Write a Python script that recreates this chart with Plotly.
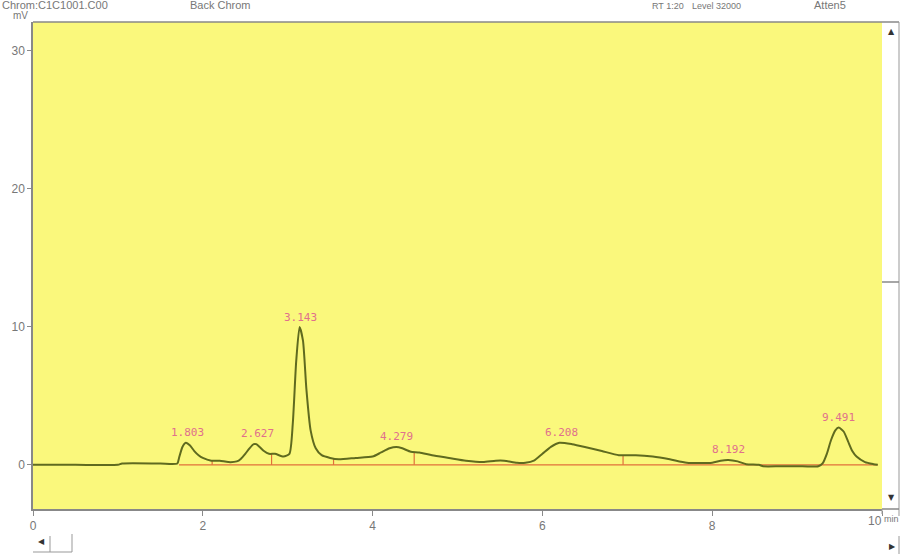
import numpy as np
import plotly.graph_objects as go

# ---- data ----
time_min = [0, 0.5, 1.0, 1.05, 1.5, 1.7, 1.72, 1.76, 1.80, 1.85, 1.9, 1.95, 2.0, 2.1, 2.2, 2.3, 2.4,
            2.45, 2.5, 2.55, 2.6, 2.63, 2.67, 2.72, 2.78, 2.85, 2.95, 3.02, 3.06, 3.1, 3.14, 3.18,
            3.22, 3.27, 3.33, 3.4, 3.5, 3.6, 3.8, 4.0, 4.1, 4.2, 4.28, 4.35, 4.45, 4.55, 4.7, 4.9,
            5.1, 5.3, 5.45, 5.55, 5.7, 5.8, 5.9, 6.0, 6.1, 6.2, 6.35, 6.5, 6.7, 6.9, 7.0, 7.1, 7.3,
            7.5, 7.7, 8.0, 8.1, 8.19, 8.3, 8.4, 8.55, 8.6, 8.8, 9.0, 9.25, 9.3, 9.35, 9.4, 9.45,
            9.49, 9.55, 9.6, 9.65, 9.7, 9.8, 9.9, 9.95]
signal_mv = [0, 0, 0.0, 0.1, 0.1, 0.1, 0.5, 1.3, 1.6, 1.4, 1.0, 0.7, 0.5, 0.3, 0.3, 0.2, 0.25,
             0.45, 0.8, 1.2, 1.5, 1.5, 1.3, 1.0, 0.8, 0.8, 0.6, 0.8, 3.0, 7.5, 10.0, 9.0,
             5.5, 2.5, 1.2, 0.7, 0.5, 0.4, 0.5, 0.6, 0.9, 1.2, 1.3, 1.2, 0.95, 0.9, 0.7, 0.5,
             0.3, 0.2, 0.3, 0.3, 0.15, 0.15, 0.3, 0.8, 1.3, 1.6, 1.5, 1.3, 1.0, 0.7, 0.7, 0.7, 0.6,
             0.4, 0.15, 0.15, 0.3, 0.35, 0.25, 0.05, 0.0, -0.1, -0.1, -0.1, -0.1, 0.1, 0.8, 1.8, 2.5,
             2.7, 2.4, 1.7, 1.0, 0.6, 0.2, 0.05, 0.0]

peak_rt = [1.803, 2.627, 3.143, 4.279, 6.208, 8.192, 9.491]
peak_labels = ["1.803", "2.627", "3.143", "4.279", "6.208", "8.192", "9.491"]
peak_label_at = [1.82, 2.64, 3.15, 4.28, 6.22, 8.19, 9.49]

baseline_span = [1.72, 9.95]
boundary_rt = [2.11, 2.81, 3.54, 4.49, 6.95, 8.4, 9.3]

x_ticks = [0, 2, 4, 6, 8, 10]
x_ticktext = ["0", "2", "4", "6", "8", ""]
x_last_label = "10"
x_unit = "min"
y_ticks = [0, 10, 20, 30]

LINE = "#5f6a1f"
BASE = "#e0703a"
LABEL = "#e0708c"
GRAY = "#8a8a8a"

fig = go.Figure()

# baseline
fig.add_trace(go.Scatter(x=baseline_span, y=[0, 0], mode="lines",
                         line=dict(color=BASE, width=1.2), hoverinfo="skip"))
# drop lines at peak boundaries
bx, by = [], []
for b in boundary_rt:
    h = float(np.interp(b, time_min, signal_mv))
    bx += [b, b, None]
    by += [min(0, h), max(0, h), None]
fig.add_trace(go.Scatter(x=bx, y=by, mode="lines",
                         line=dict(color=BASE, width=1.2), hoverinfo="skip"))
# chromatogram
fig.add_trace(go.Scatter(x=time_min, y=signal_mv, mode="lines",
                         line=dict(color=LINE, width=2, shape="spline", smoothing=0.6)))

# peak labels
for rt, lab, lx in zip(peak_rt, peak_labels, peak_label_at):
    h = float(np.interp(rt, time_min, signal_mv))
    fig.add_annotation(x=lx, y=h, text=lab, showarrow=False, yanchor="bottom", yshift=2,
                       font=dict(family="DejaVu Sans Mono", size=11, color=LABEL))

W, H = 902, 554
L, R, T, B = 33, 20, 22, 45
pw, ph = W - L - R, H - T - B


def px(x):
    return (x - L) / pw


def py(y):
    return (H - B - y) / ph


def note(x, y, text, size=10, xanchor="left", family="Liberation Sans", color="#777777"):
    fig.add_annotation(xref="paper", yref="paper", x=px(x), y=py(y), text=text,
                       showarrow=False, xanchor=xanchor, yanchor="middle",
                       font=dict(family=family, size=size, color=color))


# header texts
note(0, 5, "Chrom:C1C1001.C00", size=11)
note(188, 5, "Back Chrom", size=11)
note(650, 6, "RT 1:20", size=9)
note(690, 6, "Level 32000", size=9)
note(812, 5, "Atten5", size=11)
note(11, 16, "mV", size=10)

# last x tick label with unit
fig.add_annotation(x=x_ticks[-1], xref="x", yref="paper", y=py(521), text=x_last_label,
                   showarrow=False, xanchor="right", yanchor="middle", xshift=2,
                   font=dict(family="Liberation Sans", size=12, color="#777777"))
fig.add_annotation(x=x_ticks[-1], xref="x", yref="paper", y=py(519), text=x_unit,
                   showarrow=False, xanchor="left", yanchor="middle", xshift=0,
                   font=dict(family="Liberation Sans", size=9, color="#777777"))

# scrollbar and frame decorations
def hline(x0, x1, y, color="#888888", width=1.5):
    return dict(type="line", xref="paper", yref="paper", x0=px(x0), x1=px(x1),
                y0=py(y), y1=py(y), line=dict(color=color, width=width))


def vline(x, y0, y1, color="#999999", width=1):
    return dict(type="line", xref="paper", yref="paper", x0=px(x), x1=px(x),
                y0=py(y0), y1=py(y1), line=dict(color=color, width=width))


shapes = [
    hline(33, 899, 22),
    vline(899, 22, 516),
    hline(882, 899, 282),
    hline(882, 899, 509),
    vline(882, 509, 514),
    hline(33, 72, 552, color="#999999", width=1),
    vline(50, 536, 552),
    vline(72, 534, 552),
    vline(899, 536, 554),
]
fig.update_layout(shapes=shapes)
note(891, 32, "▲", size=8, xanchor="center", family="DejaVu Sans", color="#333333")
note(891, 497, "▼", size=8, xanchor="center", family="DejaVu Sans", color="#333333")
note(41, 541, "◀", size=8, xanchor="center", family="DejaVu Sans", color="#333333")
note(892, 546, "▶", size=8, xanchor="center", family="DejaVu Sans", color="#333333")

axis_font = dict(family="Liberation Sans", size=12, color="#777777")
fig.update_xaxes(range=[0, 10], tickvals=x_ticks, ticktext=x_ticktext, ticks="outside",
                 ticklen=5, tickcolor=GRAY, showline=True, linecolor="#888888", linewidth=1.5,
                 showgrid=False, zeroline=False, tickfont=axis_font, fixedrange=True)
fig.update_yaxes(range=[-3.2, 32.1], tickvals=y_ticks, ticks="outside", ticklen=4,
                 tickcolor=GRAY, showline=True, linecolor="#888888", linewidth=1.5,
                 showgrid=False, zeroline=False, tickfont=axis_font, fixedrange=True)

fig.update_layout(width=W, height=H, margin=dict(l=L, r=R, t=T, b=B),
                  paper_bgcolor="white", plot_bgcolor="#faf87c", showlegend=False)

fig.write_html("out.html")
